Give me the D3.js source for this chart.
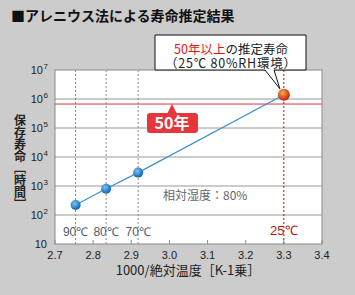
<!DOCTYPE html>
<html>
<head>
<meta charset="utf-8">
<script src="https://cdn.jsdelivr.net/npm/d3@7/dist/d3.min.js"></script>
<style>
  body { margin: 0; background: #cccccc; }
  svg { display: block; font-family: "Noto Sans CJK JP", sans-serif; }
</style>
</head>
<body>
<div id="chart"></div>
<script>
// data
var invTemp = [2.754, 2.834, 2.918, 3.3];       // 1000 / K
var lifeHours = [220, 800, 2900, 1400000];      // hours
var tempLabels = ["90℃", "80℃", "70℃", "25℃"];
var xTicks = [2.7, 2.8, 2.9, 3.0, 3.1, 3.2, 3.3, 3.4];
var yExp = [1, 2, 3, 4, 5, 6, 7];
var gridExp = [2, 3, 4, 5, 6];
var fiftyYears = 670000; // red line, as drawn

var W = 355, H = 295;
var pLeft = 55, pRight = 322, pTop = 70, pBottom = 244;

var svg = d3.select("#chart").append("svg")
  .attr("width", W)
  .attr("height", H);

var defs = svg.append("defs");
var gBlue = defs.append("radialGradient").attr("id", "gblue")
  .attr("cx", "40%").attr("cy", "35%").attr("r", "65%");
gBlue.append("stop").attr("offset", "0%").attr("stop-color", "#7cc4f0");
gBlue.append("stop").attr("offset", "100%").attr("stop-color", "#0a5fb0");
var gOr = defs.append("radialGradient").attr("id", "gorange")
  .attr("cx", "40%").attr("cy", "35%").attr("r", "65%");
gOr.append("stop").attr("offset", "0%").attr("stop-color", "#f8b048");
gOr.append("stop").attr("offset", "100%").attr("stop-color", "#c41a10");

var x = d3.scaleLinear().domain([2.7, 3.4]).range([pLeft, pRight]);
var y = d3.scaleLog().domain([10, 1e7]).range([pBottom, pTop]);

// title
svg.append("text")
  .attr("x", 11).attr("y", 21)
  .attr("font-size", 14).attr("font-weight", "bold")
  .attr("fill", "#111")
  .text("■アレニウス法による寿命推定結果");

// plot area
svg.append("rect")
  .attr("x", pLeft).attr("y", pTop)
  .attr("width", pRight - pLeft).attr("height", pBottom - pTop)
  .attr("fill", "#fff");

// horizontal grid
svg.selectAll(".grid").data(gridExp).enter().append("line")
  .attr("x1", pLeft).attr("x2", pRight)
  .attr("y1", d => y(Math.pow(10, d))).attr("y2", d => y(Math.pow(10, d)))
  .attr("stroke", "#999").attr("stroke-width", 1);

// 50 years line
svg.append("line")
  .attr("x1", pLeft).attr("x2", pRight)
  .attr("y1", y(fiftyYears)).attr("y2", y(fiftyYears))
  .attr("stroke", "#d8363c").attr("stroke-width", 1);

// dashed verticals at measured points
svg.selectAll(".vd").data(invTemp.slice(0, 3)).enter().append("line")
  .attr("x1", d => x(d)).attr("x2", d => x(d))
  .attr("y1", pTop).attr("y2", pBottom)
  .attr("stroke", "#888").attr("stroke-dasharray", "2,2");

svg.append("line")
  .attr("x1", x(invTemp[3])).attr("x2", x(invTemp[3]))
  .attr("y1", pTop).attr("y2", pBottom)
  .attr("stroke", "#b01010").attr("stroke-dasharray", "2,2");

// border
svg.append("rect")
  .attr("x", pLeft).attr("y", pTop)
  .attr("width", pRight - pLeft).attr("height", pBottom - pTop)
  .attr("fill", "none").attr("stroke", "#8a8a8a");

// x ticks (inside)
svg.selectAll(".xt").data(xTicks).enter().append("line")
  .attr("x1", d => x(d)).attr("x2", d => x(d))
  .attr("y1", pBottom).attr("y2", pBottom - 4)
  .attr("stroke", "#8a8a8a");

svg.selectAll(".xl").data(xTicks).enter().append("text")
  .attr("x", d => x(d)).attr("y", pBottom + 15)
  .attr("text-anchor", "middle")
  .attr("font-family", "Liberation Sans, Arial, sans-serif")
  .attr("font-size", 11).attr("fill", "#222")
  .text(d => d.toFixed(1));

// y labels
svg.selectAll(".yl").data(yExp).enter().append("text")
  .attr("x", d => d === 1 ? 47 : 43)
  .attr("y", d => y(Math.pow(10, d)) + 4)
  .attr("text-anchor", "end")
  .attr("font-family", "Liberation Sans, Arial, sans-serif")
  .attr("font-size", 11).attr("fill", "#222")
  .text("10");
svg.selectAll(".ys").data(yExp.filter(d => d > 1)).enter().append("text")
  .attr("x", 43.5)
  .attr("y", d => y(Math.pow(10, d)) - 1)
  .attr("font-family", "Liberation Sans, Arial, sans-serif")
  .attr("font-size", 8).attr("fill", "#222")
  .text(d => d);

// y axis title
svg.append("text")
  .attr("x", 20).attr("y", 114)
  .attr("font-size", 12).attr("font-weight", "bold").attr("fill", "#222")
  .style("writing-mode", "vertical-rl")
  .text("保存寿命［時間］");

// x axis title
svg.append("text")
  .attr("x", 188).attr("y", 275)
  .attr("text-anchor", "middle")
  .attr("font-size", 13).attr("fill", "#222")
  .text("1000/絶対温度［K-1乗］");

// fitted line
svg.append("path")
  .datum(invTemp.map((d, i) => [d, lifeHours[i]]))
  .attr("d", d3.line().x(d => x(d[0])).y(d => y(d[1])))
  .attr("fill", "none").attr("stroke", "#3a8fd2").attr("stroke-width", 1.2);

// points
svg.selectAll(".pt").data(invTemp).enter().append("circle")
  .attr("cx", d => x(d))
  .attr("cy", (d, i) => y(lifeHours[i]))
  .attr("r", (d, i) => i === 3 ? 6 : 5)
  .attr("fill", (d, i) => i === 3 ? "url(#gorange)" : "url(#gblue)");

// temperature labels
svg.selectAll(".tl").data(invTemp).enter().append("text")
  .attr("x", d => x(d))
  .attr("y", (d, i) => i === 3 ? 235 : 236)
  .attr("text-anchor", "middle")
  .attr("font-family", "Liberation Sans, Arial, sans-serif")
  .attr("font-size", (d, i) => i === 3 ? 13 : 12)
  .attr("fill", (d, i) => i === 3 ? "#b01818" : "#4f5d6b")
  .text((d, i) => tempLabels[i]);

// humidity note
svg.append("text")
  .attr("x", 163).attr("y", 200)
  .attr("font-size", 12).attr("fill", "#666")
  .text("相対湿度：80%");

// 50年 badge
var by = y(fiftyYears);
svg.append("path")
  .attr("d", `M${167},${114} L${172},${by} L${177},${114} Z`)
  .attr("fill", "#e6363b");
svg.append("rect")
  .attr("x", 147).attr("y", 113)
  .attr("width", 51).attr("height", 20).attr("rx", 3)
  .attr("fill", "#e6363b");
svg.append("text")
  .attr("x", 172).attr("y", 129)
  .attr("text-anchor", "middle")
  .attr("font-size", 16).attr("font-weight", "bold").attr("fill", "#fff")
  .text("50年");

// callout
var px = x(invTemp[3]), py = y(lifeHours[3]);
svg.append("path")
  .attr("d", `M155,35 H306 V70 H274 L${px - 4},${py - 6} L265,70 H155 Z`)
  .attr("fill", "#fff").attr("stroke", "#111").attr("stroke-width", 1);
var t1 = svg.append("text")
  .attr("x", 231).attr("y", 54)
  .attr("text-anchor", "middle")
  .attr("font-size", 12.5).attr("fill", "#222");
t1.append("tspan").attr("fill", "#e0161c").text("50年以上");
t1.append("tspan").text("の推定寿命");
svg.append("text")
  .attr("x", 165).attr("y", 68)
  .attr("font-size", 12.5).attr("fill", "#222")
  .attr("textLength", 131).attr("lengthAdjust", "spacing")
  .text("（25℃ 80%RH環境）");
</script>
</body>
</html>
